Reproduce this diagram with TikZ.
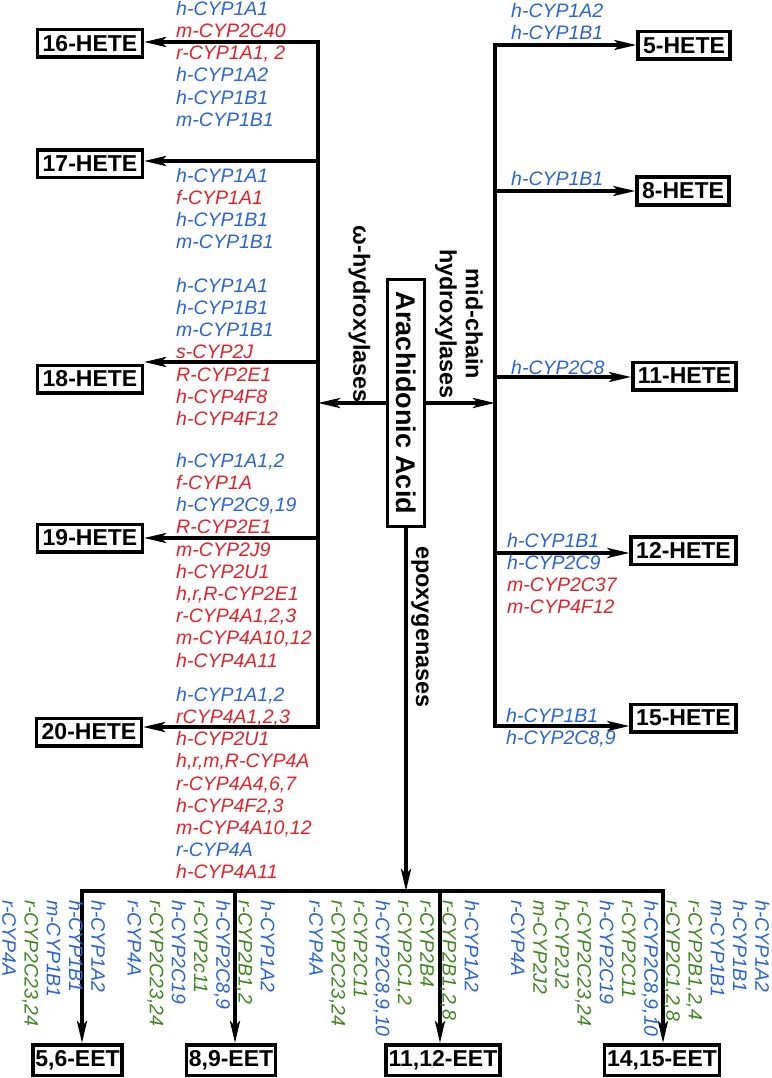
\documentclass[tikz,border=0pt]{standalone}
\usepackage{fontspec}
\setmainfont{Liberation Sans}
\usepackage{xcolor}
\usepackage{tikz}
\usetikzlibrary{arrows.meta,positioning,calc}

\definecolor{cypblue}{RGB}{40,100,215}
\definecolor{cypred}{RGB}{228,32,42}
\definecolor{cypgreen}{RGB}{62,135,30}
\newcommand\enzb[1]{\textcolor{cypblue}{#1}}
\newcommand\enzr[1]{\textcolor{cypred}{#1}}
\newcommand\enzg[1]{\textcolor{cypgreen}{#1}}
\newcommand\enzlist[1]{\begin{tabular}{@{}l@{}}#1\end{tabular}}

\begin{document}
\begin{tikzpicture}[
  x=1pt, y=-1pt,
  prod/.style={draw, line width=3.5pt, inner xsep=5pt, inner ysep=0pt, minimum height=27.5pt,
    font=\fontsize{23}{26}\selectfont\bfseries},
  eet/.style={prod, inner xsep=2.5pt, minimum height=30.5pt},
  enz/.style={inner sep=0pt, font=\fontsize{19.5}{22.2}\selectfont\itshape},
  route/.style={inner sep=0pt, font=\fontsize{23.4}{26}\selectfont\bfseries},
  trunk/.style={line width=3.8pt, line cap=rect},
  flow/.style={line width=3.5pt, ->},
  >={Stealth[length=22pt, width=10pt, inset=5pt]}]
  \useasboundingbox (0,0) rectangle (771,1078);

  % substrate
  \node[draw, line width=3pt, minimum width=37pt, minimum height=247pt, inner sep=0pt,
    font=\fontsize{27}{30}\selectfont\bfseries] (aa) at (406,403) {\rotatebox{-90}{Arachidonic Acid}};

  % omega-hydroxylase products
  \node[prod] (h16) at (90,43.5) {16-HETE};
  \node[prod] (h17) at (90,164) {17-HETE};
  \node[prod] (h18) at (90,379) {18-HETE};
  \node[prod] (h19) at (90,538) {19-HETE};
  \node[prod] (h20) at (89,732) {20-HETE};
  % mid-chain products
  \node[prod] (h5) at (684,45.5) {5-HETE};
  \node[prod] (h8) at (683,191) {8-HETE};
  \node[prod] (h11) at (684.5,376) {11-HETE};
  \node[prod] (h12) at (683.5,550.5) {12-HETE};
  \node[prod] (h15) at (683.5,718) {15-HETE};
  % epoxygenase products
  \node[eet] (e56) at (77.5,1060) {5,6-EET};
  \node[eet] (e89) at (231,1060) {8,9-EET};
  \node[eet] (e1112) at (443,1060) {11,12-EET};
  \node[eet] (e1415) at (662,1060) {14,15-EET};

  % branch points
  \coordinate (l16) at (318,42);
  \coordinate (l17) at (318,161);
  \coordinate (l18) at (318,362);
  \coordinate (l19) at (318,538);
  \coordinate (l20) at (318,727);
  \coordinate (r5) at (495,45);
  \coordinate (r8) at (495,191);
  \coordinate (r11) at (495,377);
  \coordinate (r12) at (495,553);
  \coordinate (r15) at (495,726);
  \coordinate (b56) at (82,891);
  \coordinate (b89) at (235,891);
  \coordinate (b1112) at (440,891);
  \coordinate (b1415) at (663,891);

  \draw[trunk] (l16) -- (l20);
  \draw[trunk] (r5) -- (r15);
  \draw[trunk] (b56) -- (b1415);
  \draw[flow] (aa.west) -- (aa.west -| l16);
  \draw[flow] (aa.east) -- (aa.east -| r5);
  \draw[flow] (aa.south) -- (aa.south |- b56);
  \foreach \n in {16,17,18,19,20} \draw[flow] (l\n) -- (l\n -| h\n.east);
  \foreach \n in {5,8,11,12,15} \draw[flow] (r\n) -- (r\n -| h\n.west);
  \foreach \n in {56,89,1112,1415} \draw[flow] (b\n) -- (b\n |- e\n.north);

  % pathway labels
  \node[route, anchor=south] (omega) at (359.5,403) {\rotatebox{-90}{ω-hydroxylases}};
  \node[route, anchor=south] (midc) at (458,399)
    {\rotatebox{-90}{\begin{tabular}{@{}c@{}}mid-chain\\hydroxylases\end{tabular}}};
  \node[route, anchor=north] (epox) at (420,546) {\rotatebox{-90}{epoxygenases}};

  % enzymes, omega side
  \node[enz, anchor=north west] (c16) at (176,-0.5) {\enzlist{\enzb{h-CYP1A1}\\ \enzr{m-CYP2C40}\\
    \enzr{r-CYP1A1, 2}\\ \enzb{h-CYP1A2}\\ \enzb{h-CYP1B1}\\ \enzb{m-CYP1B1}}};
  \node[enz, anchor=north west] (c17) at (176,166.5) {\enzlist{\enzb{h-CYP1A1}\\ \enzr{f-CYP1A1}\\
    \enzb{h-CYP1B1}\\ \enzb{m-CYP1B1}}};
  \node[enz, anchor=north west] (c18) at (176,276.5) {\enzlist{\enzb{h-CYP1A1}\\ \enzb{h-CYP1B1}\\
    \enzb{m-CYP1B1}\\ \enzr{s-CYP2J}\\ \enzr{R-CYP2E1}\\ \enzr{h-CYP4F8}\\ \enzr{h-CYP4F12}}};
  \node[enz, anchor=north west] (c19) at (176,451.5) {\enzlist{\enzb{h-CYP1A1,2}\\ \enzr{f-CYP1A}\\
    \enzb{h-CYP2C9,19}\\ \enzr{R-CYP2E1}\\ \enzr{m-CYP2J9}\\ \enzr{h-CYP2U1}\\ \enzr{h,r,R-CYP2E1}\\
    \enzr{r-CYP4A1,2,3}\\ \enzr{m-CYP4A10,12}\\ \enzr{h-CYP4A11}}};
  \node[enz, anchor=north west] (c20) at (176,685.5) {\enzlist{\enzb{h-CYP1A1,2}\\ \enzr{rCYP4A1,2,3}\\
    \enzr{h-CYP2U1}\\ \enzr{h,r,m,R-CYP4A}\\ \enzr{r-CYP4A4,6,7}\\ \enzr{h-CYP4F2,3}\\
    \enzr{m-CYP4A10,12}\\ \enzb{r-CYP4A}\\ \enzr{h-CYP4A11}}};

  % enzymes, mid-chain side
  \node[enz, anchor=north west] (c5) at (511,1.5) {\enzlist{\enzb{h-CYP1A2}\\ \enzb{h-CYP1B1}}};
  \node[enz, anchor=north west] (c8) at (511,169.5) {\enzlist{\enzb{h-CYP1B1}}};
  \node[enz, anchor=north west] (c11) at (511,358.5) {\enzlist{\enzb{h-CYP2C8}}};
  \node[enz, anchor=north west] (c12) at (507,531.5) {\enzlist{\enzb{h-CYP1B1}\\ \enzb{h-CYP2C9}\\
    \enzr{m-CYP2C37}\\ \enzr{m-CYP4F12}}};
  \node[enz, anchor=north west] (c15) at (506,706.5) {\enzlist{\enzb{h-CYP1B1}\\ \enzb{h-CYP2C8,9}}};

  % enzymes, epoxygenases
  \node[enz, anchor=north east] (c56) at (107,900) {\rotatebox{-90}{\enzlist{\enzb{h-CYP1A2}\\
    \enzb{h-CYP1B1}\\ \enzb{m-CYP1B1}\\ \enzg{r-CYP2C23,24}\\ \enzb{r-CYP4A}}}};
  \node[enz, anchor=north east] (c89) at (276.5,900) {\rotatebox{-90}{\enzlist{\enzb{h-CYP1A2}\\
    \enzg{r-CYP2B1,2}\\ \enzb{h-CYP2C8,9}\\ \enzg{r-CYP2c11}\\ \enzb{h-CYP2C19}\\ \enzg{r-CYP2C23,24}\\
    \enzb{r-CYP4A}}}};
  \node[enz, anchor=north east] (c1112) at (480.5,900) {\rotatebox{-90}{\enzlist{\enzb{h-CYP1A2}\\
    \enzg{r-CYP2B1,2,8}\\ \enzg{r-CYP2B4}\\ \enzg{r-CYP2C1,2}\\ \enzb{h-CYP2C8,9,10}\\ \enzg{r-CYP2C11}\\
    \enzg{r-CYP2C23,24}\\ \enzb{r-CYP4A}}}};
  \node[enz, anchor=north east] (c1415) at (771,900) {\rotatebox{-90}{\enzlist{\enzb{h-CYP1A2}\\
    \enzb{h-CYP1B1}\\ \enzb{m-CYP1B1}\\ \enzg{r-CYP2B1,2,4}\\ \enzg{r-CYP2C1,2,8}\\ \enzb{h-CYP2C8,9,10}\\
    \enzg{r-CYP2C11}\\ \enzb{h-CYP2C19}\\ \enzg{r-CYP2C23,24}\\ \enzg{h-CYP2J2}\\ \enzg{m-CYP2J2}\\
    \enzb{r-CYP4A}}}};
\end{tikzpicture}
\end{document}
